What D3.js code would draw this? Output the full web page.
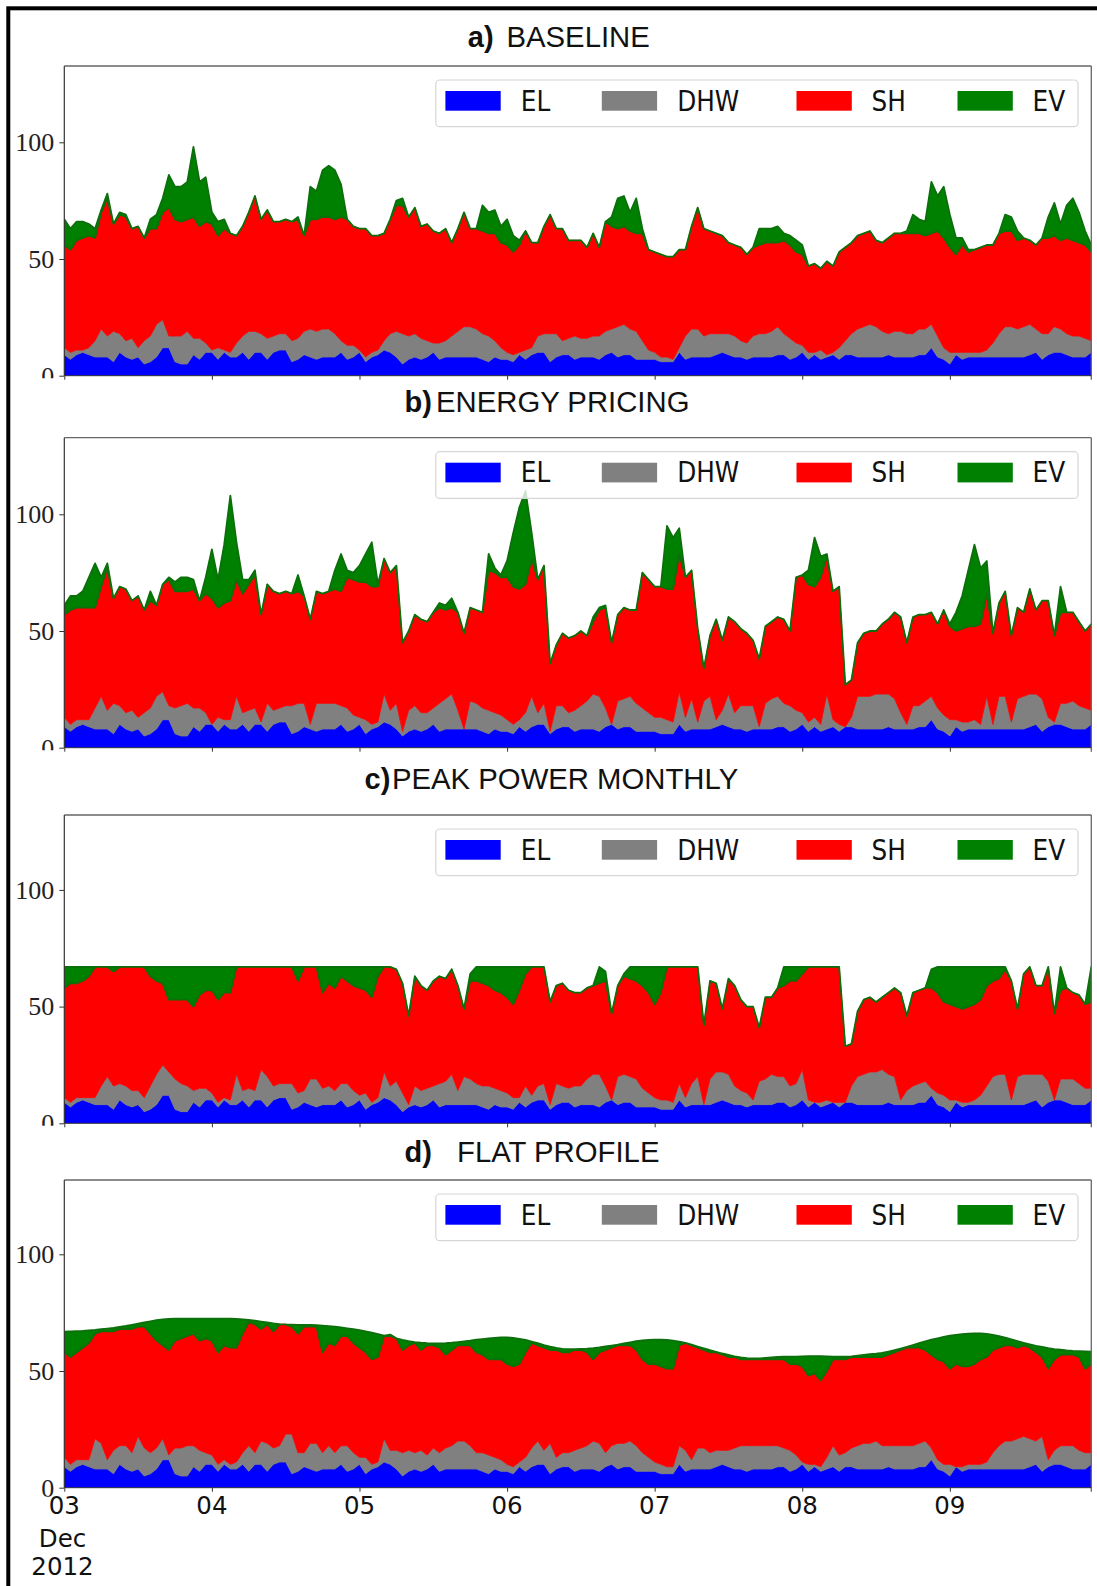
<!DOCTYPE html>
<html><head><meta charset="utf-8">
<script src="https://cdn.jsdelivr.net/npm/d3@7"></script>
<style>body{margin:0;background:#fff}svg{display:block}</style>
</head><body>
<svg id="chart" width="1097" height="1586"></svg>
<script>
// ---------------- DATA ----------------
const seriesKeys = ["EL", "DHW", "SH", "EV"];
const panelLabels = ["a)", "b)", "c)", "d)"];
const panelNames = ["BASELINE", "ENERGY PRICING", "PEAK POWER MONTHLY", "FLAT PROFILE"];
const xTickLabels = ["03", "04", "05", "06", "07", "08", "09"];
const xSubLabels = ["Dec", "2012"];
const yTickValues = [0, 50, 100];
const startDate = Date.UTC(2012, 11, 3, 0);
const nHours = 168;

// EL (same in all four cases)
const el = [9,7,9,10,9,8,8,8,6,10, 8,7,8,5,6,8,12,12,6,5, 5,9,7,10,10,7,10,8,8,10, 7,10,10,7,10,11,11,6,7,9,
  8,7,8,8,8,10,7,8,10,6, 8,9,11,10,8,5,7,8,7,8, 10,7,8,8,8,8,8,8,7,6, 8,7,7,6,9,7,9,10,10,6,
  8,9,9,7,8,8,8,7,9,10, 8,9,9,7,7,7,7,6,6,6, 10,7,8,8,8,8,9,10,9,8, 8,7,8,8,8,8,9,9,7,8,
  10,7,9,7,8,9,7,9,9,8, 8,8,8,8,9,8,8,8,8,9, 9,12,8,7,5,9,7,8,8,8, 8,8,8,8,8,8,8,9,10,7,
  9,10,10,9,8,8,8,10];

// a) BASELINE
const dhwA = [3,3,2,1,3,7,12,9,13,8, 7,9,4,10,11,14,12,5,11,12, 14,7,9,4,1,5,1,2,6,7, 12,9,8,9,7,7,7,9,9,10,
  12,12,12,12,10,5,6,5,1,2, 2,2,4,8,11,13,10,10,9,7, 4,7,7,9,11,13,13,12,11,11, 7,5,3,3,1,4,3,7,8,12,
  10,6,7,10,8,8,9,10,10,10, 13,13,11,12,8,4,3,2,2,1, 2,10,12,12,9,10,9,8,9,9, 7,7,9,10,10,11,12,9,9,6,
  3,3,1,4,1,1,5,6,9,12, 13,14,13,11,9,11,11,10,10,11, 11,10,9,5,5,1,3,2,2,2, 3,6,10,13,13,12,13,13,10,11,
  9,11,10,9,9,9,8,5];
const shA = [44,44,47,48,48,44,50,59,46,51, 53,47,52,44,46,41,46,55,50,49, 48,52,48,52,54,48,52,51,46,47,
  51,58,49,55,49,48,49,51,51,41, 47,48,48,48,49,53,54,51,52,55, 50,49,46,49,54,55,51,54,48,50,
  48,47,48,40,44,49,42,43,44,44, 46,45,46,44,46,51,45,40,46,51, 45,48,42,41,42,39,44,38,47,44,
  42,42,42,42,46,43,43,44,43,44, 42,37,44,52,46,44,43,42,39,39, 40,38,38,38,39,38,36,40,40,39,
  39,37,38,35,40,37,41,40,39,40, 40,40,37,38,41,42,42,43,43,41, 40,39,45,47,45,42,46,43,44,45,
  45,42,43,41,41,38,38,36,36,41, 41,39,38,41,41,40,40,38];
const evA = [11,9,8,7,5,4,1,2,0,1, 1,0,0,0,4,6,6,14,14,15, 16,30,19,19,5,6,4,0,0,0, 0,0,0,0,0,0,0,0,1,0,
  14,12,20,22,21,14,0,0,0,0, 0,0,0,0,2,3,0,0,0,0, 0,0,0,0,0,0,0,0,11,9, 10,7,11,7,2,0,0,0,0,0,
  0,0,0,0,0,0,0,0,0,4, 13,13,8,15,2,0,0,0,0,0, 0,0,0,0,0,0,0,0,0,0, 0,0,0,7,6,6,7,3,4,5,
  4,0,0,0,0,0,0,0,0,0, 0,0,0,0,0,0,0,1,8,6, 6,22,15,22,14,7,3,1,0,0, 0,0,0,7,6,4,0,0,0,0,
  9,14,7,14,18,13,6,3];

// b) ENERGY PRICING
const dhwB = [4,3,3,2,3,9,14,8,13,8, 7,9,5,10,11,14,12,6,11,13, 14,8,10,5,0,6,2,4,14,5, 9,7,1,12,6,6,7,12,12,10,
  2,12,11,11,11,8,10,6,3,6, 2,2,12,6,11,2,9,10,8,7, 7,12,13,15,8,0,12,11,10,10, 7,7,5,4,3,8,13,5,9,1,
  10,9,6,9,10,12,15,15,8,0, 12,12,13,12,10,8,6,7,6,5, 14,6,13,3,12,14,3,6,14,7, 10,11,10,1,11,13,13,10,11,8,
  5,4,4,3,15,3,3,0,4,14, 14,14,15,15,14,13,7,2,10,9, 11,10,9,7,7,3,4,3,4,2, 14,2,14,14,3,13,14,14,13,14,
  4,1,9,10,12,10,9,6];
const shB = [44,49,48,48,48,43,47,61,45,51, 53,47,52,44,46,39,46,54,50,49, 48,51,46,51,54,47,50,51,50,51,
  54,57,46,51,51,49,49,48,48,46, 45,48,47,48,49,49,56,58,58,59, 59,58,58,59,59,38,34,39,40,39,
  41,41,38,37,42,41,40,40,41,60, 60,59,61,59,56,55,59,57,59,29, 26,31,32,32,32,28,31,37,43,35,
  37,39,37,40,58,57,56,56,56,57, 59,60,55,40,14,26,43,30,33,39, 33,31,28,29,33,33,34,36,32,57,
  59,59,56,63,59,55,59,18,16,23, 27,28,27,30,32,37,41,35,38,39, 37,36,36,45,40,38,40,41,40,43,
  44,39,40,45,37,39,36,45,36,42, 50,37,39,39,38,36,33,37];
const evB = [4,6,5,7,13,19,4,2,0,0, 0,0,0,0,4,0,0,1,4,6, 6,4,0,7,21,12,25,45,16,6, 2,2,0,0,0,0,0,0,7,0,
  0,0,0,0,8,16,3,3,7,12, 19,1,0,0,0,0,0,0,0,0, 0,2,2,4,0,0,0,0,0,7, 2,1,7,23,35,40,11,0,0,0,
  0,0,0,0,0,0,2,1,1,0, 0,0,0,0,0,0,0,0,27,22, 11,0,0,0,0,0,0,0,0,0, 0,0,0,0,0,0,0,0,0,0,
  0,6,21,9,1,0,0,0,0,0, 0,0,0,0,0,0,0,0,0,0, 0,0,0,0,1,8,14,24,35,24, 14,0,0,0,0,0,0,0,0,0,
  0,0,11,0,0,0,0,0];

// c) PEAK POWER MONTHLY
const dhwC = [2,2,2,1,2,3,8,12,10,7, 8,7,6,6,10,13,13,10,13,12, 11,5,8,5,3,2,1,2,13,4, 8,4,13,13,6,6,6,11,6,5,
  11,12,7,8,6,7,10,6,2,7, 1,2,11,6,10,8,1,8,7,7, 6,10,10,13,6,12,11,9,9,10, 7,7,6,5,2,9,3,6,7,2,
  9,7,6,9,8,11,13,14,7,0, 12,12,11,12,8,6,4,4,4,3, 7,4,9,12,0,11,13,12,12,8, 6,6,2,10,11,13,11,11,9,9,
  13,3,0,2,2,0,2,0,7,12, 13,14,14,15,12,12,2,6,8,8, 9,3,5,5,5,1,2,1,2,4, 8,12,13,13,2,12,13,12,11,14,
  9,0,9,10,11,9,7,5];
const shC = [47,51,49,50,52,56,51,47,49,50, 51,53,53,56,47,40,35,31,34,36, 37,36,40,42,44,44,45,46,46,53,
  52,53,44,47,51,50,50,50,48,53, 48,48,41,44,44,46,44,45,46,44, 45,52,45,51,48,47,38,47,45,42,
  45,46,44,45,45,29,42,44,44,43, 42,42,41,40,46,48,55,51,50,44, 42,44,42,40,40,39,38,39,45,37,
  39,42,42,42,44,43,40,46,57,58, 50,56,50,47,34,42,38,27,41,43, 39,37,40,23,35,33,38,39,45,44,
  41,57,58,58,57,58,58,24,18,28, 32,32,30,31,35,38,46,32,40,40, 40,43,43,40,41,40,40,41,41,41,
  43,41,41,45,51,29,43,46,38,38, 49,37,38,39,37,38,36,37];
const evC = [9,7,7,6,4,0,0,0,2,0, 0,0,0,0,4,6,7,14,14,14, 14,17,12,10,10,14,11,11,0,0, 0,0,0,0,0,0,0,0,6,0,
  0,0,11,7,9,4,6,8,9,10, 13,4,0,0,0,0,0,0,0,0, 0,0,0,0,0,0,3,6,7,8, 10,11,13,16,10,3,0,0,0,0,
  0,0,0,0,0,0,0,7,4,0, 0,1,5,6,8,11,16,11,0,0, 0,0,0,0,0,0,0,0,0,0, 0,0,0,0,0,0,0,8,6,6,
  3,0,0,0,0,0,0,0,0,0, 0,0,0,0,0,0,0,0,0,0, 0,8,11,15,16,17,18,17,16,14, 8,6,5,1,0,0,0,0,0,0,
  0,0,10,0,0,0,0,15];

// d) FLAT PROFILE
const dhwD = [4,3,3,2,3,13,11,4,10,8, 10,8,14,12,9,9,9,2,11,12, 13,9,9,5,4,3,2,2,3,5, 11,5,10,12,7,7,12,17,8,6,
  11,12,7,10,7,8,11,7,3,7, 2,2,10,6,8,10,9,7,9,6, 7,8,9,10,12,12,10,7,8,8, 5,5,3,3,2,6,8,10,6,13,
  5,6,6,9,9,10,12,12,6,8, 11,10,11,11,8,6,4,4,3,3, 8,9,4,9,9,7,7,6,7,9, 10,11,10,10,10,10,9,8,9,6,
  1,3,1,2,5,9,7,6,8,10, 11,11,12,10,9,10,10,10,10,10, 11,5,4,3,5,0,2,2,2,2, 3,7,10,12,12,13,14,12,10,15,
  3,6,8,9,10,8,7,5];
const shD = [45,46,46,48,50,45,48,55,51,50, 50,53,47,52,51,46,40,45,46,47, 47,48,47,49,49,48,49,50,49,51,
  53,55,48,51,50,52,47,46,51,54, 50,50,43,44,46,47,47,47,47,45, 45,45,44,49,48,44,45,47,43,47,
  44,45,40,41,41,41,43,43,42,41, 42,43,43,43,42,45,45,41,44,40, 46,43,43,43,42,40,35,39,44,42,
  42,42,41,41,40,40,42,42,42,42, 43,46,49,43,42,43,42,41,40,39, 37,37,37,37,37,37,37,38,37,39,
  41,38,39,37,37,37,41,40,39,38, 37,37,36,38,39,40,41,42,42,41, 39,40,43,44,41,44,43,42,43,45,
  45,44,42,41,41,39,39,39,38,34, 39,39,39,39,39,40,36,38];
const evD = [8.9,11,9.1,7.2,5.4,1.6,0.9,1.2,1.5,0.9, 1.3,1.8,1.3,1.8,5.3,8.8,11.1,13.3,9.4,8.4,
  7.4,6.4,9.4,8.4,9.4,14.4,11.4,12.4,12.3,6.1, 0.9,1.6,3.2,0.8,3.4,0.1,0,0.9,3.8,0.7,
  0.7,0.6,11.4,7.2,8,3.7,3.3,5.9,7.5,9, 11.4,9.8,0.2,0.6,0,4.3,1.8,0.4,3.1,0.9,
  0.8,1.8,4.9,3.1,1.4,1.7,2,5.4,6.7,9, 9.2,9.4,11.4,12.2,10.8,5.3,0.6,0.9,1.1,1.4,
  0.9,1.5,1.4,0.4,0.5,1.6,4.8,2.1,1.5,0.9, 0.3,0.8,1.3,3.8,8.1,10.3,10.4,11.4,12.3,12,
  1.6,0,0.3,0.5,0.7,0.9,0.2,0.5,0.9,0.3, 0.8,0.5,0.4,0.4,0.6,0.8,1,1.1,3.1,3.2,
  4.3,8.4,7.4,10.4,6.3,1.2,1.1,1.1,0.3,0.6, 0.9,1.2,1.4,1.8,1.3,0.9,0.6,0.3,1.1,1.9,
  3.7,6.4,9,10.6,14.1,12.5,13.8,14,13.1,11.1, 9.9,6.5,4.9,3.3,2.6,2.8,1.1,1.4,2.8,4.3,
  8.8,4.4,2.1,1.8,1.6,2.5,7.4,5.3];

// ---------------- STYLE / LAYOUT ----------------
const colors = {EL: "#0000ff", DHW: "#808080", SH: "#ff0000", EV: "#008000"};
const panelData = [[dhwA, shA, evA], [dhwB, shB, evB], [dhwC, shC, evC], [dhwD, shD, evD]];
const layout = [
  {top: 66, bottom: 375.7, lx: 467.8, tx: 506.5, ty: 46.7, zclip: 2.5},
  {top: 437.7, bottom: 747.7, lx: 404.5, tx: 436, ty: 411.7, zclip: 2.5},
  {top: 815, bottom: 1123.3, lx: 364.5, tx: 392, ty: 788.7, zclip: 2.5},
  {top: 1180, bottom: 1487.7, lx: 404.5, tx: 457, ty: 1161.7, zclip: 9}
];
const plotLeft = 64.3, plotRight = 1091.3, pxPerUnit = 2.334;
const titleFont = "'Liberation Sans', Arial, sans-serif";
const legendFont = "'DejaVu Sans Condensed', 'DejaVu Sans', sans-serif";

const svg = d3.select("#chart");
svg.append("rect").attr("width", 1097).attr("height", 1586).attr("fill", "#fff");

const x = d3.scaleUtc()
  .domain([new Date(startDate), new Date(startDate + (nHours - 1) * 3600e3)])
  .range([plotLeft, plotRight]);
const dayTicks = d3.utcDay.range(new Date(startDate), new Date(startDate + nHours * 3600e3));

const defs = svg.append("defs");

layout.forEach((L, pi) => {
  const [dhw, sh, ev] = panelData[pi];
  const rows = d3.range(nHours).map(i => ({
    date: new Date(startDate + i * 3600e3), EL: el[i], DHW: dhw[i], SH: sh[i], EV: ev[i]
  }));
  const y = d3.scaleLinear().domain([0, (L.bottom - L.top) / pxPerUnit]).range([L.bottom, L.top]);
  const stacked = d3.stack().keys(seriesKeys)(rows);
  const area = d3.area()
    .x(d => x(d.data.date)).y0(d => y(d[0])).y1(d => y(d[1]));

  const g = svg.append("g");
  defs.append("clipPath").attr("id", "clip" + pi).append("rect")
    .attr("x", plotLeft).attr("y", L.top).attr("width", plotRight - plotLeft).attr("height", L.bottom - L.top);
  defs.append("clipPath").attr("id", "yclip" + pi).append("rect")
    .attr("x", 0).attr("y", L.top - 30).attr("width", plotLeft).attr("height", L.bottom - L.top + 30 + L.zclip);

  const plot = g.append("g").attr("clip-path", `url(#clip${pi})`);
  plot.selectAll("path.layer").data(stacked).join("path")
    .attr("class", "layer")
    .attr("d", area)
    .attr("fill", d => colors[d.key])
    .attr("stroke", d => d.key === "EV" ? "#0b6f0b" : colors[d.key])
    .attr("stroke-width", d => d.key === "EV" ? 1.8 : 0.8)
    .attr("stroke-linejoin", "round");

  // spines
  g.append("line").attr("x1", plotLeft).attr("x2", plotRight).attr("y1", L.top).attr("y2", L.top)
    .attr("stroke", "#666").attr("stroke-width", 1.3);
  g.append("line").attr("x1", plotRight).attr("x2", plotRight).attr("y1", L.top).attr("y2", L.bottom + 4)
    .attr("stroke", "#666").attr("stroke-width", 1.3);
  g.append("line").attr("x1", plotLeft).attr("x2", plotLeft).attr("y1", L.top).attr("y2", L.bottom)
    .attr("stroke", "#333").attr("stroke-width", 1.2);
  g.append("line").attr("x1", plotLeft).attr("x2", plotRight).attr("y1", L.bottom).attr("y2", L.bottom)
    .attr("stroke", "#333").attr("stroke-width", 1);

  // y axis (labels clipped just below the axis, like the reference)
  const yWrap = g.append("g").attr("clip-path", `url(#yclip${pi})`);
  const yAxis = yWrap.append("g").attr("transform", `translate(${plotLeft},0)`)
    .call(d3.axisLeft(y).tickValues(yTickValues).tickSize(5).tickPadding(5));
  yAxis.select(".domain").remove();
  yAxis.selectAll("line").attr("stroke", "#333");
  yAxis.selectAll("text").attr("font-family", "'Liberation Serif', 'DejaVu Serif', serif")
    .attr("font-size", 26).attr("fill", "#222");

  // x axis ticks
  const xAxis = g.append("g").attr("transform", `translate(0,${L.bottom})`)
    .call(d3.axisBottom(x).tickValues(dayTicks).tickSize(4).tickFormat(""));
  xAxis.select(".domain").remove();
  xAxis.selectAll("line").attr("stroke", "#333");
  if (pi === 3) {
    dayTicks.forEach((t, i) => {
      g.append("text").attr("x", x(t)).attr("y", L.bottom + 26)
        .attr("text-anchor", "middle").attr("font-family", "'DejaVu Sans', sans-serif")
        .attr("font-size", 24.5).attr("fill", "#111").text(xTickLabels[i]);
    });
    xSubLabels.forEach((s, i) => {
      g.append("text").attr("x", 62.5).attr("y", 1547 + i * 28.3)
        .attr("text-anchor", "middle").attr("font-family", "'DejaVu Sans', sans-serif")
        .attr("font-size", 24.5).attr("fill", "#111").text(s);
    });
  }

  // legend
  const ly = L.top + 14;
  const lg = g.append("g");
  lg.append("rect").attr("x", 435.8).attr("y", ly).attr("width", 642.2).attr("height", 46.7)
    .attr("rx", 4).attr("fill", "#fff").attr("fill-opacity", 0.8)
    .attr("stroke", "#d6d6d6").attr("stroke-width", 1.2);
  const patchX = [445.4, 601.8, 796.5, 957.5];
  const textX = [520.8, 677.2, 871.5, 1032.5];
  seriesKeys.forEach((k, i) => {
    lg.append("rect").attr("x", patchX[i]).attr("y", ly + 11).attr("width", 55.3).attr("height", 19.7)
      .attr("fill", colors[k]);
    lg.append("text").attr("x", textX[i]).attr("y", ly + 30.5)
      .attr("font-family", legendFont).attr("font-stretch", "condensed")
      .attr("font-size", 27.5).attr("fill", "#111").text(k);
  });

  // title
  g.append("text").attr("x", L.lx).attr("y", L.ty).attr("font-family", titleFont)
    .attr("font-weight", "bold").attr("font-size", 29).attr("fill", "#111").text(panelLabels[pi]);
  g.append("text").attr("x", L.tx).attr("y", L.ty).attr("font-family", titleFont)
    .attr("font-size", 29.3).attr("fill", "#111").text(panelNames[pi]);
});

// outer frame (thick border on top and left)
svg.append("rect").attr("x", 8.3).attr("y", 8.3).attr("width", 1200).attr("height", 1700)
  .attr("fill", "none").attr("stroke", "#000").attr("stroke-width", 4);
</script>
</body></html>
